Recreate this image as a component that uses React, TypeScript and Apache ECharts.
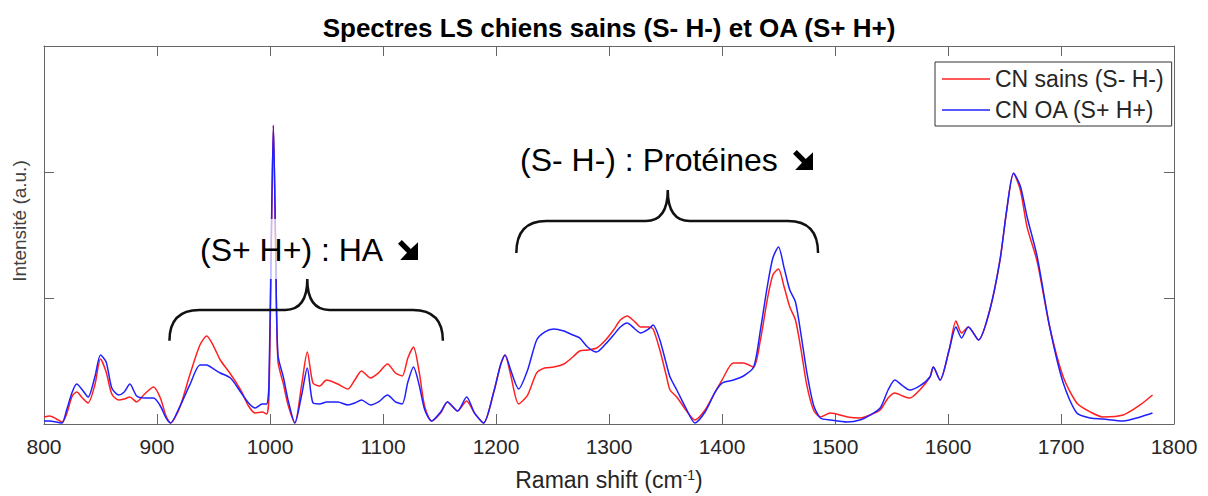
import React, { useEffect, useRef } from "react";
import * as echarts from "echarts";

// Raman shift (cm-1) sampling positions
const wavenumbers = [
  800, 805, 811, 816, 820, 825, 829, 834, 839, 845, 850, 855, 860, 866, 871, 876, 882, 889, 897, 903,
  908, 912, 920, 929, 938, 944, 950, 956, 965, 974, 981, 987, 993, 997, 999, 1001, 1003, 1005, 1007, 1012,
  1016, 1022, 1028, 1033, 1038, 1044, 1050, 1060, 1069, 1075, 1081, 1089, 1096, 1104, 1111, 1117, 1122, 1127, 1132, 1137,
  1143, 1151, 1157, 1166, 1174, 1181, 1189, 1198, 1204, 1208, 1213, 1220, 1228, 1236, 1243, 1251, 1260, 1268, 1274, 1281,
  1289, 1297, 1304, 1310, 1316, 1323, 1328, 1335, 1339, 1345, 1351, 1354, 1360, 1368, 1376, 1385, 1394, 1400, 1410, 1419,
  1428, 1434, 1440, 1445, 1450, 1455, 1460, 1465, 1470, 1475, 1481, 1487, 1496, 1511, 1522, 1531, 1540, 1547, 1553, 1560,
  1566, 1575, 1584, 1587, 1593, 1601, 1607, 1612, 1618, 1627, 1637, 1646, 1652, 1658, 1664, 1670, 1679, 1690, 1702, 1714,
  1726, 1737, 1755, 1770, 1781,
];

// CN sains (S- H-)
const sainsValues = [
  0.056, 0.063, 0.04, 0.016, 0.079, 0.222, 0.254, 0.206, 0.167, 0.31, 0.516, 0.413, 0.238, 0.19, 0.198, 0.214, 0.175, 0.238, 0.294, 0.206,
  0.063, 0.008, 0.127, 0.389, 0.627, 0.698, 0.619, 0.508, 0.397, 0.27, 0.143, 0.087, 0.095, 0.079, 0.2, 1.3, 2.37, 1.4, 0.5, 0.31,
  0.15, 0.008, 0.31, 0.571, 0.325, 0.302, 0.349, 0.317, 0.278, 0.349, 0.421, 0.365, 0.405, 0.476, 0.405, 0.381, 0.524, 0.611, 0.413, 0.135,
  0.024, 0.087, 0.175, 0.103, 0.183, 0.087, 0.008, 0.254, 0.468, 0.548, 0.389, 0.159, 0.23, 0.405, 0.444, 0.452, 0.476, 0.532, 0.579, 0.587,
  0.603, 0.667, 0.746, 0.825, 0.857, 0.81, 0.77, 0.77, 0.754, 0.587, 0.373, 0.27, 0.214, 0.111, 0.032, 0.111, 0.254, 0.349, 0.484, 0.484,
  0.452, 0.667, 0.984, 1.183, 1.23, 1.087, 0.929, 0.825, 0.587, 0.31, 0.111, 0.056, 0.087, 0.056, 0.048, 0.071, 0.111, 0.206, 0.246, 0.222,
  0.206, 0.27, 0.373, 0.452, 0.349, 0.587, 0.817, 0.722, 0.77, 0.667, 0.905, 1.3, 1.7, 1.99, 1.857, 1.563, 1.286, 0.77, 0.373, 0.167,
  0.095, 0.056, 0.071, 0.151, 0.23,
];

// CN OA (S+ H+)
const oaValues = [
  0.024, 0.024, 0.016, 0.008, 0.111, 0.254, 0.317, 0.27, 0.214, 0.373, 0.548, 0.492, 0.286, 0.23, 0.254, 0.317, 0.222, 0.206, 0.206, 0.143,
  0.048, 0.008, 0.135, 0.31, 0.468, 0.468, 0.437, 0.405, 0.365, 0.254, 0.167, 0.127, 0.159, 0.159, 0.3, 1.4, 2.37, 1.4, 0.55, 0.365,
  0.19, 0.008, 0.23, 0.444, 0.167, 0.159, 0.175, 0.175, 0.151, 0.167, 0.19, 0.151, 0.175, 0.23, 0.175, 0.159, 0.333, 0.452, 0.31, 0.111,
  0.024, 0.095, 0.175, 0.103, 0.214, 0.087, 0.008, 0.254, 0.468, 0.548, 0.429, 0.278, 0.429, 0.667, 0.73, 0.754, 0.738, 0.706, 0.683, 0.611,
  0.571, 0.635, 0.706, 0.77, 0.802, 0.754, 0.722, 0.754, 0.786, 0.667, 0.468, 0.373, 0.27, 0.127, 0.008, 0.095, 0.254, 0.325, 0.349, 0.381,
  0.452, 0.746, 1.087, 1.317, 1.405, 1.238, 1.063, 0.968, 0.706, 0.413, 0.151, 0.048, 0.032, 0.016, 0.032, 0.071, 0.127, 0.27, 0.349, 0.302,
  0.27, 0.302, 0.373, 0.452, 0.349, 0.587, 0.77, 0.683, 0.77, 0.667, 0.905, 1.3, 1.7, 1.99, 1.889, 1.643, 1.325, 0.77, 0.325, 0.087,
  0.048, 0.04, 0.024, 0.056, 0.087,
];

const seriesNames = ["CN sains (S- H-)", "CN OA (S+ H+)"];
const xMin = 800;
const xMax = 1800;
const xStep = 100;
const yMin = 0;
const yMax = 3;
const yStep = 1;

// Annotation braces in data coordinates: [xStart, xCenter, xEnd, yEnds, yMid, yTip]
const braceHA = [911, 1033, 1153, 0.66, 0.905, 1.15];
const braceProt = [1218, 1352, 1485, 1.357, 1.611, 1.857];

const FONT = "'Liberation Sans', Arial, 'DejaVu Sans', sans-serif";

echarts.graphic.registerShape(
  "brace",
  echarts.graphic.extendShape({
    shape: { x1: 0, x2: 0, xc: 0, yEnd: 0, yMid: 0, yTip: 0, r: 30, r2: 22 },
    buildPath(ctx: any, s: any) {
      ctx.moveTo(s.x1, s.yEnd);
      ctx.quadraticCurveTo(s.x1, s.yMid, s.x1 + s.r, s.yMid);
      ctx.lineTo(s.xc - s.r2, s.yMid);
      ctx.quadraticCurveTo(s.xc, s.yMid, s.xc, s.yTip);
      ctx.quadraticCurveTo(s.xc, s.yMid, s.xc + s.r2, s.yMid);
      ctx.lineTo(s.x2 - s.r, s.yMid);
      ctx.quadraticCurveTo(s.x2, s.yMid, s.x2, s.yEnd);
    },
  }) as any
);

// heavy south-east arrow glyph, drawn as a polygon in a 20x20 box
const arrowPoints = (x: number, y: number) =>
  [
    [0, 3.8],
    [3.8, 0],
    [12.8, 9.0],
    [20, 2.2],
    [20, 20],
    [2.2, 20],
    [9.0, 12.8],
  ].map(([a, b]) => [x + a, y + b]);

export default function App() {
  const ref = useRef<HTMLDivElement>(null);

  useEffect(() => {
    if (!ref.current) return;
    const chart = echarts.init(ref.current, undefined, { renderer: "svg" });

    const axisColor = "#666666";
    const tickCommon = { show: true, inside: true, length: 10, lineStyle: { color: axisColor } };

    chart.setOption({
      animation: false,
      backgroundColor: "#ffffff",
      grid: { left: 44, right: 34, top: 46, bottom: 72, containLabel: false, outerBoundsMode: "none" },
      legend: {
        orient: "vertical",
        left: 935,
        top: 62,
        padding: [4, 8, 3, 7],
        icon: "rect",
        itemWidth: 48,
        itemHeight: 1.5,
        itemGap: 5,
        borderColor: "#333333",
        borderWidth: 1,
        backgroundColor: "#ffffff",
        textStyle: { fontFamily: FONT, fontSize: 23, color: "#262626", lineHeight: 26 },
        data: seriesNames,
      },
      xAxis: [
        {
          type: "value",
          min: xMin,
          max: xMax,
          interval: xStep,
          position: "bottom",
          axisLine: { show: true, onZero: false, lineStyle: { color: axisColor } },
          axisTick: tickCommon,
          splitLine: { show: false },
          axisLabel: {
            fontFamily: FONT,
            fontSize: 21,
            color: "#262626",
            margin: 12,
            formatter: (v: number) => String(v),
          },
          name: "Raman shift (cm{s|-1})",
          nameLocation: "middle",
          nameGap: 44,
          nameTextStyle: {
            fontFamily: FONT,
            fontSize: 23,
            color: "#262626",
            rich: { s: { fontFamily: FONT, fontSize: 14, color: "#262626", verticalAlign: "top" } },
          },
        },
        {
          type: "value",
          min: xMin,
          max: xMax,
          interval: xStep,
          position: "top",
          axisLine: { show: true, onZero: false, lineStyle: { color: axisColor } },
          axisTick: tickCommon,
          splitLine: { show: false },
          axisLabel: { show: false },
        },
      ],
      yAxis: [
        {
          type: "value",
          min: yMin,
          max: yMax,
          interval: yStep,
          position: "left",
          axisLine: { show: true, onZero: false, lineStyle: { color: axisColor } },
          axisTick: tickCommon,
          splitLine: { show: false },
          axisLabel: { show: false },
        },
        {
          type: "value",
          min: yMin,
          max: yMax,
          interval: yStep,
          position: "right",
          axisLine: { show: true, onZero: false, lineStyle: { color: axisColor } },
          axisTick: tickCommon,
          splitLine: { show: false },
          axisLabel: { show: false },
        },
      ],
      series: [
        {
          name: seriesNames[0],
          type: "line",
          xAxisIndex: 0,
          yAxisIndex: 0,
          symbol: "none",
          smooth: 0.25,
          lineStyle: { color: "#ff2020", width: 1.5 },
          itemStyle: { color: "#ff2020" },
          data: wavenumbers.map((w, i) => [w, sainsValues[i]]),
          z: 2,
        },
        {
          name: seriesNames[1],
          type: "line",
          xAxisIndex: 0,
          yAxisIndex: 0,
          symbol: "none",
          smooth: 0.25,
          lineStyle: { color: "#2020ff", width: 1.5 },
          itemStyle: { color: "#2020ff" },
          data: wavenumbers.map((w, i) => [w, oaValues[i]]),
          z: 3,
        },
      ],
    });

    const px = (x: number, y: number) => chart.convertToPixel({ gridIndex: 0 }, [x, y]) as number[];
    const braceShape = (b: number[]) => {
      const a = px(b[0], b[3]);
      const c = px(b[1], b[4]);
      const e = px(b[2], b[3]);
      const t = px(b[1], b[5]);
      return { x1: a[0], x2: e[0], xc: c[0], yEnd: a[1], yMid: c[1], yTip: t[1], r: 30, r2: 22 };
    };

    chart.setOption({
      graphic: [
        {
          type: "text",
          x: 609,
          y: 28,
          z: 100,
          style: {
            text: "Spectres LS chiens sains (S- H-) et OA (S+ H+)",
            font: `bold 26px ${FONT}`,
            fill: "#000000",
            align: "center",
            verticalAlign: "middle",
          },
        },
        {
          type: "text",
          x: 19,
          y: 221,
          rotation: Math.PI / 2,
          z: 100,
          style: {
            text: "Intensité (a.u.)",
            font: `19px ${FONT}`,
            fill: "#404040",
            align: "center",
            verticalAlign: "middle",
          },
        },
        {
          type: "rect",
          z: 99,
          shape: { x: 196, y: 219, width: 228, height: 60 },
          style: { fill: "rgba(255,255,255,0.7)" },
        },
        {
          type: "text",
          x: 200,
          y: 250,
          z: 100,
          style: {
            text: "(S+ H+) : HA",
            font: `32px ${FONT}`,
            fill: "#000000",
            align: "left",
            verticalAlign: "middle",
          },
        },
        {
          type: "polygon",
          z: 100,
          shape: { points: arrowPoints(398, 240) },
          style: { fill: "#000000" },
        },
        {
          type: "text",
          x: 520,
          y: 160,
          z: 100,
          style: {
            text: "(S- H-) : Protéines",
            font: `32px ${FONT}`,
            fill: "#000000",
            align: "left",
            verticalAlign: "middle",
          },
        },
        {
          type: "polygon",
          z: 100,
          shape: { points: arrowPoints(793, 150) },
          style: { fill: "#000000" },
        },
        {
          type: "brace",
          z: 101,
          shape: braceShape(braceHA),
          style: { fill: "none", stroke: "#111111", lineWidth: 2.5 },
        },
        {
          type: "brace",
          z: 101,
          shape: braceShape(braceProt),
          style: { fill: "none", stroke: "#111111", lineWidth: 2.5 },
        },
      ],
    });

    return () => chart.dispose();
  }, []);

  return <div ref={ref} style={{ position: "fixed", left: 0, top: 0, width: 1208, height: 496 }} />;
}
